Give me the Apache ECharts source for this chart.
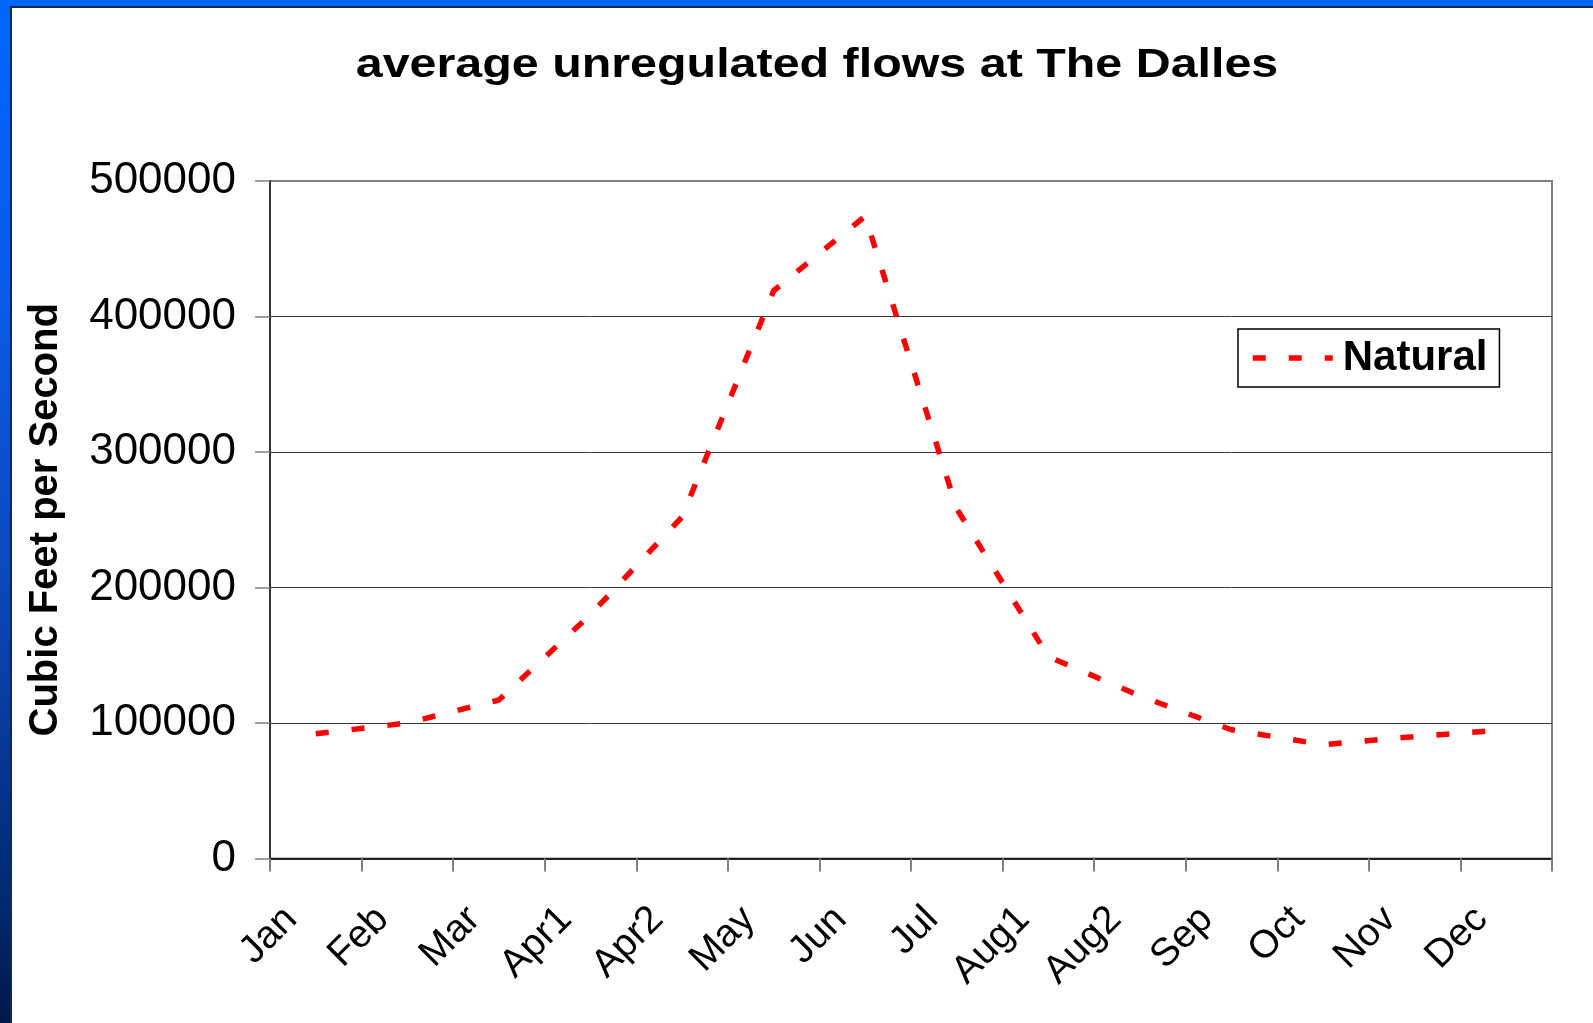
<!DOCTYPE html>
<html>
<head>
<meta charset="utf-8">
<script src="https://cdn.jsdelivr.net/npm/echarts@6/dist/echarts.min.js"></script>
<style>
  html, body { margin: 0; padding: 0; width: 1593px; height: 1023px; overflow: hidden; }
  body {
    position: relative;
    background: linear-gradient(to bottom, #0066ff 0%, #0a5be6 30%, #0b45b4 60%, #002a70 88%, #001848 100%);
  }
  /* white slide panel framed by the blue band on the left and top */
  #panel {
    position: absolute; left: 10px; top: 6px; right: 0; bottom: 0;
    background: #ffffff;
    border-left: 2px solid #14284f;
    border-top: 2px solid #14284f;
  }
  #chart { position: absolute; left: 0; top: 0; width: 1593px; height: 1023px; }
</style>
</head>
<body>
<div id="panel"></div>
<div id="chart"></div>
<script>
// Monthly periods (April and August are split into halves)
const categories = ['Jan', 'Feb', 'Mar', 'Apr1', 'Apr2', 'May', 'Jun', 'Jul', 'Aug1', 'Aug2', 'Sep', 'Oct', 'Nov', 'Dec'];

// Average unregulated (natural) flow, cubic feet per second
const naturalFlow = [92000, 100000, 117000, 180000, 252000, 419000, 474000, 258000, 149000, 120000, 95000, 84000, 90000, 95000];

// Value axis range
const yMin = 0;
const yMax = 500000;
const yStep = 100000;

const titleText = 'average unregulated flows at The Dalles';
const yAxisTitle = 'Cubic Feet per Second';
const seriesName = 'Natural';

const FONT = "'Liberation Sans', Arial, Helvetica, sans-serif";
const RED_DASH = { color: '#ff0000', width: 5.5, type: [13, 23], cap: 'butt' };

const chart = echarts.init(document.getElementById('chart'), null, { renderer: 'canvas' });

chart.setOption({
  backgroundColor: 'transparent',
  animation: false,
  textStyle: { fontFamily: FONT },
  graphic: [{
    type: 'text',
    x: 817,
    y: 66,
    scaleX: 1.21,
    style: {
      text: titleText,
      font: 'bold 40px ' + FONT,
      fill: '#000000',
      textAlign: 'center',
      textVerticalAlign: 'middle'
    }
  }],
  grid: {
    left: 270, top: 181, right: 41, bottom: 164.5,
    show: true,
    borderColor: '#808080',
    borderWidth: 2,
    backgroundColor: 'transparent'
  },
  legend: {
    data: [seriesName],
    left: 1238,
    top: 329,
    orient: 'horizontal',
    padding: [8, 12, 8, 12],
    borderColor: '#000000',
    borderWidth: 1.5,
    backgroundColor: '#ffffff',
    itemWidth: 80,
    itemHeight: 14,
    itemGap: 0,
    selectedMode: false,
    lineStyle: RED_DASH,
    itemStyle: { opacity: 0 },
    textStyle: { fontSize: 42, fontWeight: 'bold', color: '#000000', fontFamily: FONT, padding: [0, 0, 0, 5] }
  },
  xAxis: {
    type: 'category',
    data: categories,
    boundaryGap: true,
    axisLine: { show: true, lineStyle: { color: '#222222', width: 2 } },
    axisTick: { show: true, length: 13, lineStyle: { color: '#808080', width: 2 } },
    axisLabel: {
      interval: 0,
      rotate: 45,
      margin: 30,
      fontSize: 39,
      color: '#000000',
      padding: [0, 35, 0, 0]
    },
    splitLine: { show: false }
  },
  yAxis: {
    type: 'value',
    min: yMin,
    max: yMax,
    interval: yStep,
    name: yAxisTitle,
    nameLocation: 'middle',
    nameRotate: 90,
    nameGap: 204,
    nameTextStyle: { fontSize: 40, fontWeight: 'bold', color: '#000000', fontFamily: FONT },
    axisLine: { show: true, lineStyle: { color: '#333333', width: 2 } },
    axisTick: { show: true, length: 15, lineStyle: { color: '#808080', width: 1.5 } },
    axisLabel: {
      fontSize: 44,
      color: '#000000',
      margin: 34,
      formatter: function (v) { return String(v); }
    },
    splitLine: {
      show: true,
      showMinLine: false,
      showMaxLine: false,
      lineStyle: { color: '#3a3a3a', width: 1 }
    }
  },
  series: [{
    name: seriesName,
    type: 'line',
    data: naturalFlow,
    symbol: 'none',
    smooth: false,
    itemStyle: { color: '#ff0000' },
    lineStyle: RED_DASH
  }]
});
</script>
</body>
</html>
